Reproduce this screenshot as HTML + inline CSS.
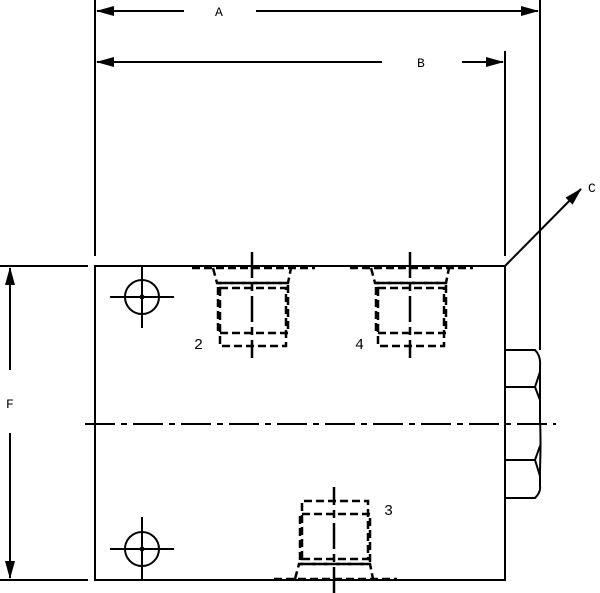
<!DOCTYPE html>
<html><head><style>html,body{margin:0;padding:0;background:#fff}svg{display:block}text{font-family:"Liberation Mono","DejaVu Sans Mono",monospace}</style></head>
<body>
<svg width="600" height="593" viewBox="0 0 600 593" xmlns="http://www.w3.org/2000/svg">
<defs>
<marker id="ar" markerWidth="18" markerHeight="10" refX="17" refY="5" orient="auto" markerUnits="userSpaceOnUse">
<path d="M0,0 L18,5 L0,10 Z" fill="#000"/></marker>
</defs>
<g stroke="#000" stroke-width="2" fill="none">
<line x1="95" y1="0" x2="95" y2="256"/>
<line x1="505" y1="51" x2="505" y2="256"/>
<line x1="540" y1="0" x2="540" y2="350"/>
<line x1="0" y1="266" x2="88" y2="266"/>
<line x1="0" y1="580" x2="88" y2="580"/>
<line x1="184" y1="11" x2="97" y2="11" marker-end="url(#ar)"/>
<line x1="256" y1="11" x2="538" y2="11" marker-end="url(#ar)"/>
<line x1="382" y1="62" x2="97" y2="62" marker-end="url(#ar)"/>
<line x1="462" y1="62" x2="503" y2="62" marker-end="url(#ar)"/>
<line x1="10" y1="370" x2="10" y2="268" marker-end="url(#ar)"/>
<line x1="10" y1="433" x2="10" y2="578" marker-end="url(#ar)"/>
<line x1="505" y1="266" x2="581" y2="189" marker-end="url(#ar)"/>
<rect x="95" y="266" width="410" height="314"/>
<path d="M505,350 H535 Q541,356 540,366 V420 Q541,440 540,470 V486 Q541,492 535,498 H505"/>
<path d="M505,387 H535 L540,372 M535,387 L540,400"/>
<path d="M505,460 H535 L540,446 M535,460 L540,476"/>
<line x1="85" y1="424" x2="556" y2="424" stroke-dasharray="30,6,6,6"/>
<circle cx="142" cy="297" r="17"/>
<line x1="110" y1="297" x2="174" y2="297"/><line x1="142" y1="266" x2="142" y2="328"/>
<circle cx="142" cy="549" r="17"/>
<line x1="110" y1="549" x2="174" y2="549"/><line x1="142" y1="517" x2="142" y2="580"/>
</g>
<g fill="#000"><circle cx="142" cy="297" r="2.5"/><circle cx="142" cy="549" r="2.5"/></g>
<g stroke="#000" stroke-width="2.5" fill="none">
<g id="p">
<g stroke-dasharray="8,4">
<line x1="192" y1="268" x2="315" y2="268"/>
<path d="M213,268 L217,283 H288 L291,268"/>
<rect x="218" y="283" width="70" height="50"/>
<rect x="220" y="288" width="66" height="58"/>
</g>
<line x1="252" y1="252" x2="252" y2="358" stroke-dasharray="26,5,8,5"/>
</g>
<use href="#p" transform="translate(158,0)"/>
<g transform="translate(0,847) scale(1,-1) translate(82,0)">
<g stroke-dasharray="8,4">
<line x1="192" y1="268" x2="315" y2="268"/>
<path d="M213,268 L217,283 H288 L291,268"/>
<rect x="218" y="283" width="70" height="50"/>
<rect x="220" y="288" width="66" height="58"/>
</g>
<line x1="252" y1="254" x2="252" y2="360" stroke-dasharray="26,5,8,5"/>
</g>
</g>
<g font-size="13" fill="#000">
<text x="215" y="16" font-family="Liberation Mono, monospace">A</text>
<text x="417" y="67" font-family="Liberation Mono, monospace">B</text>
<text x="588" y="192" font-family="Liberation Mono, monospace">C</text>
<text x="6" y="408" font-family="Liberation Mono, monospace">F</text>
<text x="194" y="349" font-size="15" font-family="Liberation Mono, monospace">2</text>
<text x="355" y="349" font-size="15" font-family="Liberation Mono, monospace">4</text>
<text x="384" y="515" font-size="15" font-family="Liberation Mono, monospace">3</text>
</g>
</svg>
</body></html>
